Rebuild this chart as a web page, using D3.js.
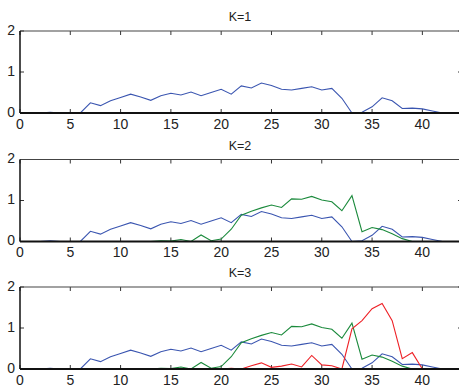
<!DOCTYPE html>
<html>
<head>
<meta charset="utf-8">
<script src="https://cdn.jsdelivr.net/npm/d3@7"></script>
<style>
  body { margin: 0; background: #fff; }
  svg { display: block; }
</style>
</head>
<body>
<svg id="chart"></svg>
<script>
// values, one per index 1..44
const blue = [0, 0, 0.02, 0, 0, 0, 0.25, 0.18, 0.3, 0.38,
  0.46, 0.39, 0.31, 0.42, 0.48, 0.44, 0.51, 0.42, 0.5, 0.58,
  0.46, 0.66, 0.61, 0.73, 0.67, 0.58, 0.56, 0.6, 0.64, 0.56,
  0.6, 0.36, 0, 0.02, 0.15, 0.37, 0.3, 0.11, 0.12, 0.1,
  0.05, 0, 0, 0];
const green = [0, 0, 0, 0, 0, 0, 0, 0, 0, 0,
  0, 0, 0, 0.02, 0.01, 0.05, 0, 0.16, 0.02, 0.06,
  0.3, 0.64, 0.74, 0.82, 0.89, 0.83, 1.04, 1.03, 1.1, 1.01,
  0.97, 0.75, 1.12, 0.24, 0.34, 0.29, 0.19, 0.07, 0, 0,
  0, 0, 0, 0];
const red = [0, 0, 0, 0, 0, 0, 0, 0, 0, 0,
  0, 0, 0, 0, 0, 0, 0, 0, 0, 0,
  0.02, 0, 0.08, 0.15, 0.04, 0.07, 0.12, 0.05, 0.33, 0.1,
  0.08, 0, 0.98, 1.18, 1.47, 1.6, 1.18, 0.25, 0.4, 0,
  0, 0, 0, 0];

const titles = ["K=1", "K=2", "K=3"];
const xTicks = [0, 5, 10, 15, 20, 25, 30, 35, 40];
const yTicks = [0, 1, 2];

const series = [
  {values: blue, color: "#3a55b0"},
  {values: green, color: "#1b8a3c"},
  {values: red, color: "#ee2026"}
];

const width = 459, height = 387;
const panelTop = [31, 159.5, 287];
const panelH = 82;

const svg = d3.select("#chart")
  .attr("width", width)
  .attr("height", height)
  .attr("font-family", "Arial, 'Liberation Sans', sans-serif");

const x = d3.scaleLinear([0, 44], [20, 462.6]);

titles.forEach((title, k) => {
  const top = panelTop[k];
  const y = d3.scaleLinear([0, 2], [top + panelH, top]);
  const g = svg.append("g");

  // ticks on all four sides, pointing inward
  xTicks.forEach(t => {
    g.append("line").attr("x1", x(t)).attr("x2", x(t))
      .attr("y1", top + panelH).attr("y2", top + panelH - 4)
      .attr("stroke", "#333").attr("stroke-width", 1);
    g.append("line").attr("x1", x(t)).attr("x2", x(t))
      .attr("y1", top).attr("y2", top + 4)
      .attr("stroke", "#333").attr("stroke-width", 1);
    g.append("text").attr("x", x(t)).attr("y", top + panelH + 12)
      .attr("text-anchor", "middle").attr("dominant-baseline", "middle")
      .attr("font-size", 14).attr("fill", "#222").text(t);
  });
  yTicks.forEach(t => {
    g.append("line").attr("x1", x(0)).attr("x2", x(0) + 4)
      .attr("y1", y(t)).attr("y2", y(t))
      .attr("stroke", "#333").attr("stroke-width", 1);
    g.append("line").attr("x1", 458).attr("x2", 462)
      .attr("y1", y(t)).attr("y2", y(t))
      .attr("stroke", "#333").attr("stroke-width", 1);
    g.append("text").attr("x", 15).attr("y", y(t))
      .attr("text-anchor", "end").attr("dominant-baseline", "middle")
      .attr("font-size", 14).attr("fill", "#222").text(t);
  });

  // data lines
  series.slice(0, k + 1).forEach(s => {
    g.append("path")
      .datum(s.values)
      .attr("fill", "none")
      .attr("stroke", s.color)
      .attr("stroke-width", 1.1)
      .attr("d", d3.line()
        .x((d, i) => x(i + 1))
        .y(d => y(d)));
  });

  // axes box
  g.append("line").attr("x1", x(0)).attr("x2", width)
    .attr("y1", top).attr("y2", top)
    .attr("stroke", "#444").attr("stroke-width", 1.2);
  g.append("line").attr("x1", x(0)).attr("x2", x(0))
    .attr("y1", top).attr("y2", top + panelH)
    .attr("stroke", "#111").attr("stroke-width", 1.5);
  g.append("line").attr("x1", x(0)).attr("x2", width)
    .attr("y1", top + panelH).attr("y2", top + panelH)
    .attr("stroke", "#111").attr("stroke-width", 1.8);

  g.append("text").attr("x", 240).attr("y", top - 13)
    .attr("text-anchor", "middle").attr("dominant-baseline", "middle")
    .attr("font-size", 12.5).attr("fill", "#222").text(title);
});
</script>
</body>
</html>
